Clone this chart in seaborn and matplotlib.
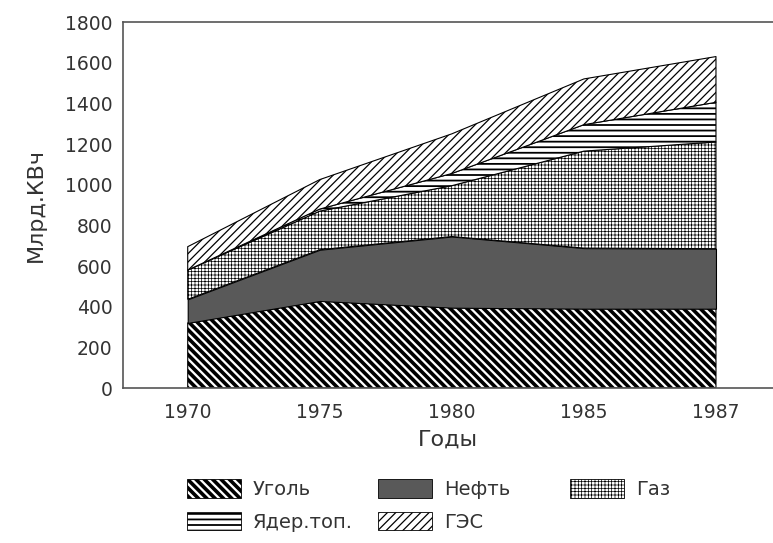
import numpy as np
import pandas as pd
import matplotlib
matplotlib.use("Agg")
import matplotlib.pyplot as plt
import seaborn as sns
from matplotlib.patches import Patch

# values, bln kWh
years = ["1970", "1975", "1980", "1985", "1987"]
coal = [320, 428, 395, 390, 390]
oil = [116, 252, 350, 298, 295]
gas = [144, 190, 250, 477, 525]
nuclear = [0, 10, 60, 130, 195]
hydro = [115, 145, 195, 225, 225]

names = ["Уголь", "Нефть", "Газ", "Ядер.топ.", "ГЭС"]
yticks = [0, 200, 400, 600, 800, 1000, 1200, 1400, 1600, 1800]

df = pd.DataFrame(dict(zip(names, [coal, oil, gas, nuclear, hydro])), index=years)
top = df.cumsum(axis=1)
bottom = top.shift(1, axis=1).fillna(0)

# hatch, face colour, hatch line width
styles = {
    "Уголь": ("\\\\\\\\", "white", 2.6),
    "Нефть": (None, "#595959", 1.0),
    "Газ": ("+++++", "white", 0.5),
    "Ядер.топ.": ("---", "white", 1.3),
    "ГЭС": ("////", "white", 0.9),
}

sns.set_theme(style="white")
plt.rcParams["font.family"] = ["DejaVu Sans"]
ink = "#333333"

fig = plt.figure(figsize=(7.73, 5.43), dpi=100)
W, H = 773, 543
ax = fig.add_axes([123 / W, 1 - 388 / H, 1 - 123 / W, (388 - 22) / H])

x = np.arange(len(years))
handles = {}
for name in names:
    hatch, fc, hlw = styles[name]
    plt.rcParams["hatch.linewidth"] = hlw
    poly = ax.fill_between(x, bottom[name].values, top[name].values,
                           facecolor=fc, edgecolor="black", hatch=hatch,
                           linewidth=0.8)
    if hasattr(poly, "set_hatch_linewidth"):
        poly.set_hatch_linewidth(hlw)
    handles[name] = Patch(facecolor=fc, edgecolor="black", hatch=hatch, linewidth=0.6)

ax.set_xlim(-0.49, (W - 188) / 132)
ax.set_ylim(0, 1800)
ax.set_xticks(x)
ax.set_xticklabels(years)
ax.set_yticks(yticks)
ax.tick_params(axis="both", direction="out", colors="#555555", labelcolor=ink,
               labelsize=13.5, width=1.0)
ax.tick_params(axis="y", length=6, pad=1.5)
ax.tick_params(axis="x", length=5, pad=6)
for side in ["left", "bottom", "top"]:
    ax.spines[side].set_color("#555555")
    ax.spines[side].set_linewidth(1.2)
ax.spines["right"].set_visible(False)
ax.set_xlabel("Годы", fontsize=16, color=ink, labelpad=5)
ax.set_ylabel("Млрд.КВч", fontsize=16, color=ink, labelpad=14)

# legend under the plot, three columns placed by hand
cols = [(187, ["Уголь", "Ядер.топ."]), (378, ["Нефть", "ГЭС"]), (570, ["Газ"])]
for left, group in cols:
    leg = fig.legend([handles[n] for n in group], group, loc="upper left",
                     bbox_to_anchor=(left / W, 1 - 479 / H), frameon=False,
                     fontsize=14, labelcolor=ink, handlelength=2.8, handleheight=1.1,
                     handletextpad=0.6, labelspacing=0.65, borderpad=0,
                     borderaxespad=0)
    for patch, n in zip(leg.get_patches(), group):
        if hasattr(patch, "set_hatch_linewidth"):
            patch.set_hatch_linewidth(styles[n][2])

fig.savefig("out.png", dpi=100)
